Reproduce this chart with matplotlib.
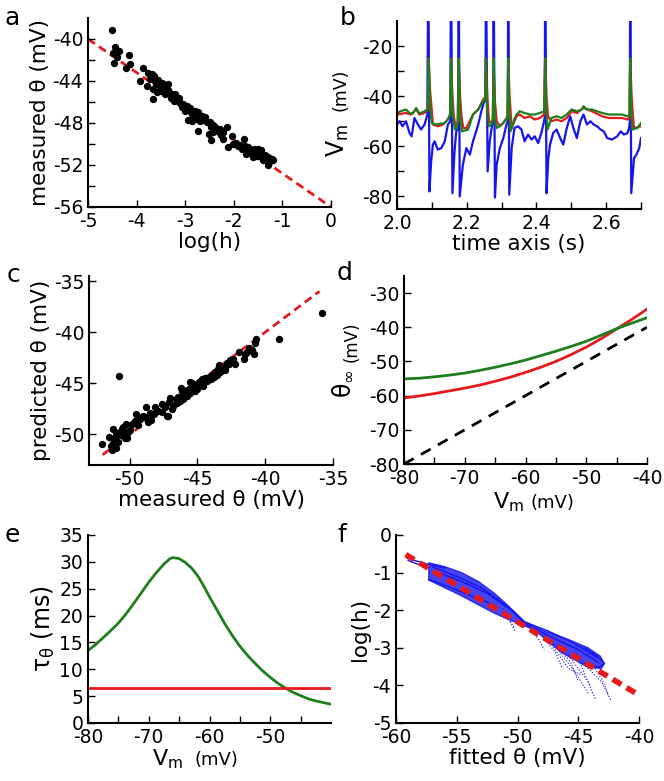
import matplotlib as mpl
mpl.use('Agg')
import matplotlib.pyplot as plt

plt.rcParams['font.family'] = ['DejaVu Sans']
plt.rcParams['axes.unicode_minus'] = False

W, H = 664, 781
RED = '#e41a1c'
GREEN = '#1f7f1f'
BLUE = '#1515ee'

# ---- a: measured threshold vs log(h)
a_pts = [(-4.51, -39.12), (-4.45, -40.79), (-4.36, -41.10), (-4.48, -41.32), (-4.41, -41.73),
         (-4.47, -42.33), (-4.15, -41.54), (-4.14, -42.36), (-4.21, -42.74),
         (-3.86, -42.74), (-3.76, -43.21), (-3.69, -43.37), (-3.64, -43.53), (-3.72, -43.84),
         (-3.62, -44.00), (-3.93, -44.00), (-3.79, -44.47), (-3.66, -44.79), (-3.55, -44.32),
         (-3.48, -44.16), (-3.45, -44.47), (-3.35, -44.32), (-3.38, -44.79), (-3.52, -44.95),
         (-3.42, -45.26), (-3.31, -45.10), (-3.66, -45.73), (-3.21, -45.26), (-3.18, -45.58),
         (-3.24, -45.89), (-3.11, -46.05), (-3.04, -46.21), (-2.97, -46.36), (-3.07, -46.52),
         (-2.90, -46.59), (-3.00, -46.84), (-2.80, -46.84), (-2.73, -46.99), (-2.83, -47.31),
         (-2.94, -47.72), (-2.87, -47.78), (-2.76, -47.62), (-2.66, -47.31), (-2.59, -47.47),
         (-2.70, -47.78), (-2.73, -48.73), (-2.49, -47.94), (-2.46, -48.41), (-2.42, -48.88),
         (-2.52, -49.04), (-2.35, -48.57), (-2.28, -48.57), (-2.22, -48.88), (-2.15, -48.41),
         (-2.22, -49.52), (-2.46, -49.61), (-2.04, -49.20), (-2.11, -50.30), (-2.01, -49.99),
         (-1.91, -50.15), (-1.80, -49.52), (-1.77, -50.15), (-1.84, -50.46), (-1.70, -50.30),
         (-1.63, -50.62), (-1.74, -50.93), (-1.56, -50.78), (-1.50, -50.46), (-1.46, -50.93),
         (-1.60, -51.25), (-1.43, -51.25), (-1.36, -51.09), (-1.29, -51.25), (-1.22, -51.41),
         (-1.29, -52.04), (-1.39, -51.56), (-1.53, -51.19), (-1.67, -50.78),
         (-3.60, -44.3), (-3.55, -43.9), (-3.50, -44.6), (-3.70, -43.8), (-3.58, -45.0),
         (-3.40, -45.0), (-3.35, -44.9), (-3.30, -45.6), (-3.27, -45.3), (-3.15, -45.9),
         (-3.12, -45.6), (-3.05, -46.4), (-2.95, -46.7), (-2.90, -46.9), (-2.85, -47.1),
         (-2.78, -47.0), (-2.72, -47.3), (-2.68, -47.6), (-2.62, -47.7), (-2.55, -47.9),
         (-2.42, -48.2), (-2.38, -48.4), (-2.30, -48.9), (-2.26, -49.1), (-1.95, -49.9),
         (-1.88, -50.1), (-1.75, -50.5), (-1.68, -50.6), (-1.62, -50.9), (-1.55, -51.0),
         (-1.50, -51.1), (-1.45, -50.6), (-1.40, -51.4), (-1.35, -51.3), (-1.30, -51.5),
         (-1.25, -51.6), (-1.20, -51.5), (-1.58, -50.5), (-1.72, -50.9), (-3.45, -44.3)]
a_fit_x = [-5, 0]
a_fit_y = [-40, -56]

# ---- b: voltage traces (time s, mV)
b_blue = [(2.000, -51.3), (2.007, -50.0), (2.016, -52.0), (2.026, -50.0), (2.036, -54.7),
          (2.042, -56.0), (2.050, -48.7), (2.060, -51.3), (2.069, -53.3), (2.079, -51.3),
          (2.087, -47.3), (2.090, 20), (2.093, -78.0), (2.098, -66.0), (2.103, -59.3),
          (2.108, -58.0), (2.117, -61.3), (2.127, -60.7), (2.137, -58.0), (2.146, -51.3),
          (2.153, -50.0), (2.155, 20), (2.159, -78.7), (2.165, -62.0), (2.170, -54.0),
          (2.175, -53.0), (2.177, 20), (2.180, -80.0), (2.189, -67.3), (2.199, -60.7),
          (2.209, -63.3), (2.218, -58.0), (2.233, -51.3), (2.242, -46.0), (2.250, -42.0),
          (2.254, -42.0), (2.255, 20), (2.260, -70.0), (2.266, -58.0), (2.273, -51.3),
          (2.276, -50.0), (2.277, 20), (2.281, -80.4), (2.286, -67.3), (2.295, -60.7),
          (2.305, -56.7), (2.314, -51.3), (2.318, -50.0), (2.319, 20), (2.322, -79.3),
          (2.329, -60.7), (2.337, -52.7), (2.347, -52.0), (2.357, -53.3), (2.366, -58.0),
          (2.376, -55.3), (2.386, -57.3), (2.395, -56.0), (2.405, -58.7), (2.414, -54.7),
          (2.422, -50.0), (2.424, -48.0), (2.425, 20), (2.429, -78.7), (2.434, -65.0),
          (2.439, -59.3), (2.448, -54.7), (2.458, -53.3), (2.468, -56.7), (2.477, -59.3),
          (2.487, -52.7), (2.497, -48.0), (2.506, -52.7), (2.516, -56.7), (2.526, -50.0),
          (2.535, -47.3), (2.545, -51.3), (2.555, -50.0), (2.564, -51.3), (2.574, -52.0),
          (2.584, -53.3), (2.593, -54.0), (2.603, -56.7), (2.617, -57.3), (2.632, -56.0),
          (2.642, -54.0), (2.651, -55.3), (2.661, -54.7), (2.666, -52.7), (2.668, -50.0),
          (2.669, 20), (2.672, -78.7), (2.680, -64.7), (2.687, -63.3), (2.695, -60.7),
          (2.700, -56.7)]
b_red = [(2.000, -47.3), (2.026, -46.7), (2.040, -47.3), (2.055, -45.3), (2.064, -47.3),
         (2.079, -46.7), (2.088, -45.3), (2.091, -25), (2.095, -38), (2.100, -46),
         (2.103, -51.3), (2.117, -52.0), (2.132, -51.3), (2.146, -49.3), (2.153, -47),
         (2.155, -25), (2.159, -40), (2.163, -48), (2.168, -52.0), (2.174, -50),
         (2.177, -25), (2.181, -40), (2.185, -48), (2.190, -52.7), (2.199, -52.7),
         (2.218, -47.3), (2.233, -45.3), (2.247, -41.3), (2.253, -40.5), (2.255, -25),
         (2.259, -40), (2.264, -50.0), (2.272, -50.5), (2.275, -49), (2.277, -25),
         (2.281, -42), (2.286, -50), (2.295, -52.0), (2.305, -50.7), (2.314, -48.7),
         (2.317, -48), (2.319, -25), (2.323, -40), (2.329, -52.7), (2.343, -48),
         (2.352, -47.3), (2.366, -48.7), (2.381, -48.0), (2.395, -49.3), (2.410, -48.7),
         (2.422, -47.3), (2.425, -25), (2.429, -40), (2.433, -48), (2.443, -50.0),
         (2.458, -49.3), (2.472, -50.0), (2.487, -48.7), (2.501, -46.0), (2.516, -46.7),
         (2.535, -44.7), (2.559, -46.0), (2.588, -48.0), (2.608, -48.7), (2.627, -48.7),
         (2.646, -48.7), (2.661, -49.3), (2.667, -48.5), (2.669, -25), (2.673, -40),
         (2.677, -48), (2.680, -52.7), (2.700, -52.0)]
b_green = [(2.000, -46.7), (2.010, -46.0), (2.026, -45.3), (2.036, -46.7), (2.045, -47.0),
           (2.055, -44.7), (2.064, -46.9), (2.079, -46.0), (2.087, -45.3), (2.089, -44.0),
           (2.091, -25), (2.095, -45), (2.100, -50.7), (2.110, -51.3), (2.125, -51.0),
           (2.137, -50.7), (2.146, -49.3), (2.152, -47.5), (2.155, -25), (2.160, -48),
           (2.166, -53.3), (2.172, -52.5), (2.175, -50), (2.177, -25), (2.181, -48),
           (2.186, -54.0), (2.199, -53.5), (2.204, -53.3), (2.218, -47.3), (2.233, -45.3),
           (2.247, -42.0), (2.253, -41), (2.255, -25), (2.258, -45), (2.264, -52.0),
           (2.272, -51), (2.275, -49), (2.277, -25), (2.281, -49), (2.286, -52.7),
           (2.300, -51.3), (2.314, -49.3), (2.317, -48), (2.319, -25), (2.322, -45),
           (2.326, -54.0), (2.337, -49), (2.343, -47.3), (2.352, -46.0), (2.366, -46.7),
           (2.381, -47.3), (2.395, -47.3), (2.410, -46.7), (2.422, -46.0), (2.425, -25),
           (2.428, -45), (2.432, -53.3), (2.443, -48.7), (2.458, -48.0), (2.472, -48.7),
           (2.487, -47.3), (2.501, -45.3), (2.516, -46.0), (2.530, -45.3), (2.535, -44.0),
           (2.545, -45.3), (2.559, -45.3), (2.574, -46.0), (2.588, -46.7), (2.608, -47.3),
           (2.627, -47.3), (2.646, -47.3), (2.661, -48.0), (2.667, -47.5), (2.669, -25),
           (2.672, -45), (2.675, -53.3), (2.690, -52.7), (2.700, -50.7)]

# ---- c: predicted vs measured threshold
c_pts = [(-52.03, -50.96), (-50.82, -44.26), (-38.99, -40.70), (-35.81, -38.08), (-40.66, -40.70),
         (-41.00, -41.74), (-51.49, -50.23), (-51.24, -49.43), (-51.11, -50.54), (-51.36, -51.18),
         (-50.99, -51.34), (-50.87, -50.70), (-50.62, -50.07), (-50.50, -49.27), (-50.25, -48.96),
         (-50.12, -49.75), (-50.37, -50.39), (-50.00, -49.59), (-50.74, -49.75), (-50.99, -49.91),
         (-49.51, -48.00), (-49.26, -48.48), (-49.01, -48.16), (-48.76, -47.37), (-48.64, -48.80),
         (-48.39, -48.64), (-49.38, -49.12), (-47.65, -47.05), (-47.40, -47.37), (-47.15, -48.16),
         (-47.03, -46.42), (-46.78, -47.21), (-46.53, -46.89), (-46.29, -46.73), (-46.04, -46.58),
         (-46.16, -45.78), (-45.79, -46.26), (-45.54, -44.83), (-45.54, -45.94), (-45.30, -45.46),
         (-45.05, -45.31), (-44.80, -45.15), (-44.55, -44.83), (-44.43, -44.51), (-44.18, -44.35),
         (-43.93, -44.19), (-43.69, -43.88), (-43.44, -43.24), (-43.56, -44.19), (-43.19, -43.72),
         (-42.95, -43.72), (-42.70, -43.08), (-42.57, -42.77), (-42.20, -43.08), (-41.58, -42.61),
         (-41.34, -41.97), (-40.84, -42.13), (-40.72, -41.02), (-47.28, -48.16), (-47.90, -47.69),
         (-48.14, -47.37),
         (-51.2, -50.8), (-51.0, -50.2), (-50.8, -50.0), (-50.6, -49.5), (-50.4, -49.9),
         (-50.2, -50.4), (-51.3, -51.5), (-49.8, -49.0), (-49.6, -48.7), (-48.9, -48.3),
         (-48.5, -47.9), (-48.2, -48.0), (-47.6, -47.8), (-46.9, -47.5), (-46.6, -46.5),
         (-46.4, -46.3), (-46.0, -46.1), (-45.8, -45.7), (-45.6, -45.6), (-45.4, -45.0),
         (-45.2, -45.8), (-45.0, -45.6), (-44.9, -44.9), (-44.7, -44.6), (-44.6, -45.3),
         (-44.3, -44.8), (-44.0, -44.6), (-43.8, -44.4), (-43.5, -43.6), (-43.3, -43.9),
         (-43.0, -43.4), (-42.8, -43.0), (-42.4, -42.6), (-41.9, -41.9), (-41.5, -42.1),
         (-41.2, -41.5), (-47.1, -46.8), (-46.2, -45.5)]
c_fit = [-52, -36]

# ---- d: steady-state threshold vs Vm
d_vm = [-80, -77.5, -75, -72.5, -70, -67.5, -65, -62.5, -60, -57.5, -55, -52.5, -50,
        -47.5, -45, -42.5, -40]
d_green = [-55.1, -54.9, -54.5, -54.0, -53.4, -52.6, -51.7, -50.7, -49.6, -48.3, -47.0,
           -45.6, -44.1, -42.3, -40.4, -38.8, -37.2]
d_red = [-60.7, -60.1, -59.4, -58.6, -57.8, -56.9, -55.8, -54.6, -53.2, -51.7, -50.0,
         -48.0, -45.8, -43.3, -40.5, -37.7, -34.7]
d_ident = [-80, -40]

# ---- e: threshold time constant vs Vm
e_vm = [-80, -78.75, -77.5, -76.25, -75, -73.75, -72.5, -71.25, -70, -68.75, -67.5, -66.5,
        -66, -65, -64, -63, -62, -61, -60, -58.75, -57.5, -56.25, -55, -53.75, -52.5,
        -51.25, -50, -48.75, -47.5, -46.25, -45, -43.75, -42.5, -41.25, -40]
e_green = [13.5, 14.6, 15.9, 17.2, 18.6, 20.3, 22.2, 24.2, 26.2, 28.0, 29.6, 30.6,
           30.8, 30.6, 29.9, 28.9, 27.5, 25.6, 23.5, 21.0, 18.5, 16.3, 14.3, 12.6, 11.1,
           9.7, 8.5, 7.4, 6.5, 5.7, 5.1, 4.5, 4.1, 3.8, 3.5]
e_red_x = [-80, -40]
e_red = [6.5, 6.5]

# ---- f: log(h) vs fitted threshold
f_up_x = [-57.3, -56.0, -54.6, -53.2, -51.9, -50.8, -49.9, -49.4, -48.3, -47.7, -45.8,
          -44.2, -43.2, -42.85]
f_up_y = [-0.74, -0.84, -1.00, -1.24, -1.55, -1.87, -2.15, -2.31, -2.48, -2.56, -2.78,
          -3.00, -3.22, -3.42]
f_lo_x = [-42.85, -43.1, -44.2, -46.4, -48.6, -49.4, -50.8, -51.9, -53.2, -54.6, -56.0, -57.3]
f_lo_y = [-3.42, -3.55, -3.52, -3.12, -2.52, -2.42, -2.24, -2.08, -1.86, -1.62, -1.40, -1.20]
f_lines = [([-59.1, -58.2, -57.3, -56.0], [-0.62, -0.70, -0.78, -0.88]),
           ([-59.0, -58.0, -57.3], [-0.68, -0.80, -0.85]),
           ([-57.3, -55.5, -53.5, -52.0], [-1.18, -1.40, -1.66, -1.85]),
           ([-44.5, -43.5, -42.85, -43.3, -44.5], [-3.00, -3.20, -3.42, -3.52, -3.42]),
           ([-57.0, -55.0, -53.0, -51.0, -49.5, -47.5, -45.5, -43.5],
            [-0.85, -1.10, -1.40, -1.85, -2.30, -2.55, -2.85, -3.25]),
           ([-56.5, -54.5, -52.5, -50.5, -49.4, -47.0, -45.0, -43.3],
            [-1.00, -1.25, -1.55, -2.00, -2.36, -2.75, -3.05, -3.40])]
f_tails = [([-47.73, -45.81, -44.72], [-2.66, -3.55, -3.73]),
           ([-45.81, -44.17, -43.62], [-3.20, -3.91, -4.35]),
           ([-44.72, -43.07, -42.30], [-3.37, -3.91, -4.40]),
           ([-47.19, -45.27, -44.17], [-2.84, -3.64, -4.22]),
           ([-48.28, -46.91, -46.36], [-2.58, -3.11, -3.51]),
           ([-50.87, -50.20], [-2.09, -2.58]),
           ([-43.62, -42.93, -42.52], [-3.55, -3.91, -4.26]),
           ([-46.8, -45.6, -45.0], [-2.90, -3.40, -3.90]),
           ([-45.2, -44.6, -44.0], [-3.10, -3.60, -4.05]),
           ([-49.0, -48.2, -47.8], [-2.45, -2.80, -3.05]),
           ([-51.2, -50.6, -50.3], [-1.95, -2.30, -2.45])]
f_fit_x = [-59.2, -40.2]
f_fit_y = [-0.52, -4.22]


def box(l, t, r, b):
  return [l / W, 1 - b / H, (r - l) / W, (b - t) / H]

def style(ax):
  for s in ['top', 'right']:
    ax.spines[s].set_visible(False)
  for s in ['left', 'bottom']:
    ax.spines[s].set_linewidth(1.5)
  ax.tick_params(direction='in', length=5, width=1, labelsize=13.5)

def ticks(vals, every, fmt):
  return [fmt % v if i % every == 0 else '' for i, v in enumerate(vals)]

def unzip(pts):
  return [p[0] for p in pts], [p[1] for p in pts]

fig = plt.figure(figsize=(W / 100., H / 100.), dpi=100)
LAB = 15.5

# a
ax = fig.add_axes(box(88, 18, 331, 207))
style(ax)
x, y = unzip(a_pts)
ax.plot(a_fit_x, a_fit_y, color=RED, lw=2, dashes=(3, 1.8), zorder=1)
ax.scatter(x, y, s=28, color='black', zorder=2, lw=0)
ax.set_xlim(-5, 0)
ax.set_ylim(-56, -38)
ax.set_xticks([-5, -4, -3, -2, -1, 0])
yt = list(range(-56, -39, 2))
ax.set_yticks(yt)
ax.set_yticklabels(ticks(yt, 2, '%d'))
ax.set_xlabel('log(h)', fontsize=LAB, labelpad=1)
ax.set_ylabel('measured θ (mV)', fontsize=LAB, labelpad=2)

# b
ax = fig.add_axes(box(397, 21, 641, 209))
style(ax)
for tr, col in [(b_blue, BLUE), (b_red, RED), (b_green, GREEN)]:
  t, v = unzip(tr)
  ax.plot(t, v, color=col, lw=1.6)
ax.set_xlim(2.0, 2.7)
ax.set_ylim(-85, -10)
xt = [2.0, 2.1, 2.2, 2.3, 2.4, 2.5, 2.6, 2.7]
ax.set_xticks(xt)
ax.set_xticklabels(ticks(xt, 2, '%.1f'))
yt = list(range(-80, -19, 10))
ax.set_yticks(yt)
ax.set_yticklabels(ticks(yt, 2, '%d'))
ax.set_xlabel('time axis (s)', fontsize=LAB, labelpad=1)
ax.text(-0.213, 0.277, 'V$_\\mathregular{m}$', transform=ax.transAxes, fontsize=17,
        rotation=90, rotation_mode='anchor', ha='left', va='baseline')
ax.text(-0.213, 0.52, '(mV)', transform=ax.transAxes, fontsize=12.5,
        rotation=90, rotation_mode='anchor', ha='left', va='baseline')

# c
ax = fig.add_axes(box(89, 276, 333, 465))
style(ax)
x, y = unzip(c_pts)
ax.plot(c_fit, c_fit, color=RED, lw=2, dashes=(3, 1.8), zorder=1)
ax.scatter(x, y, s=28, color='black', zorder=2, lw=0)
ax.set_xlim(-53, -35)
ax.set_ylim(-53, -34.5)
ax.set_xticks([-50, -45, -40, -35])
ax.set_yticks([-50, -45, -40, -35])
ax.set_xlabel('measured θ (mV)', fontsize=LAB, labelpad=1)
ax.set_ylabel('predicted θ (mV)', fontsize=LAB, labelpad=2)

# d
ax = fig.add_axes(box(404, 276, 647, 464))
style(ax)
ax.plot(d_ident, d_ident, color='black', lw=2, dashes=(4, 3))
ax.plot(d_vm, d_red, color=RED, lw=2)
ax.plot(d_vm, d_green, color=GREEN, lw=2)
ax.set_xlim(-80, -40)
ax.set_ylim(-80, -25)
xt = list(range(-80, -39, 5))
ax.set_xticks(xt)
ax.set_xticklabels(ticks(xt, 2, '%d'))
ax.set_yticks(list(range(-80, -29, 10)))
ax.text(0.366, -0.234, 'V$_\\mathregular{m}$', transform=ax.transAxes, fontsize=16,
        ha='left', va='baseline')
ax.text(0.52, -0.234, '(mV)', transform=ax.transAxes, fontsize=13, ha='left', va='baseline')
ax.text(-0.222, 0.35, 'θ$_\\mathregular{∞}$', transform=ax.transAxes, fontsize=17,
        rotation=90, rotation_mode='anchor', ha='left', va='baseline')
ax.text(-0.195, 0.545, '(mV)', transform=ax.transAxes, fontsize=12,
        rotation=90, rotation_mode='anchor', ha='left', va='baseline')

# e
ax = fig.add_axes(box(88, 535, 331, 723))
style(ax)
ax.plot(e_vm, e_green, color=GREEN, lw=2)
ax.plot(e_red_x, e_red, color=RED, lw=2)
ax.set_xlim(-80, -40)
ax.set_ylim(0, 35)
xt = list(range(-80, -44, 5))
ax.set_xticks(xt)
ax.set_xticklabels(ticks(xt, 2, '%d'))
ax.set_yticks(list(range(0, 36, 5)))
ax.set_ylabel('τ$_\\mathregular{θ}$ (ms)', fontsize=17, labelpad=2)
ax.text(0.263, -0.223, 'V$_\\mathregular{m}$', transform=ax.transAxes, fontsize=16,
        ha='left', va='baseline')
ax.text(0.44, -0.223, '(mV)', transform=ax.transAxes, fontsize=13, ha='left', va='baseline')

# f
ax = fig.add_axes(box(396, 535, 639, 723))
style(ax)
ax.fill(f_up_x + f_lo_x, f_up_y + f_lo_y, color=BLUE, alpha=0.8, lw=1)
for lx, ly in f_lines:
  ax.plot(lx, ly, color=BLUE, lw=1)
for lx, ly in f_tails:
  ax.plot(lx, ly, color=BLUE, lw=0.8, ls=':')
ax.plot(f_fit_x, f_fit_y, color=RED, lw=4, dashes=(1.8, 1.1))
ax.set_xlim(-60, -40)
ax.set_ylim(-5, 0)
ax.set_xticks([-60, -55, -50, -45, -40])
ax.set_yticks([-5, -4, -3, -2, -1, 0])
ax.set_xlabel('fitted θ (mV)', fontsize=LAB, labelpad=1)
ax.set_ylabel('log(h)', fontsize=LAB, labelpad=2)

# panel letters
for lab, px, py in [('a', 5, 25), ('b', 340, 25), ('c', 7, 282), ('d', 337, 280),
                    ('e', 5, 542), ('f', 337, 542)]:
  fig.text(px / W, 1 - py / H, lab, fontsize=18, va='baseline', ha='left')

plt.savefig('out.png', dpi=100)
